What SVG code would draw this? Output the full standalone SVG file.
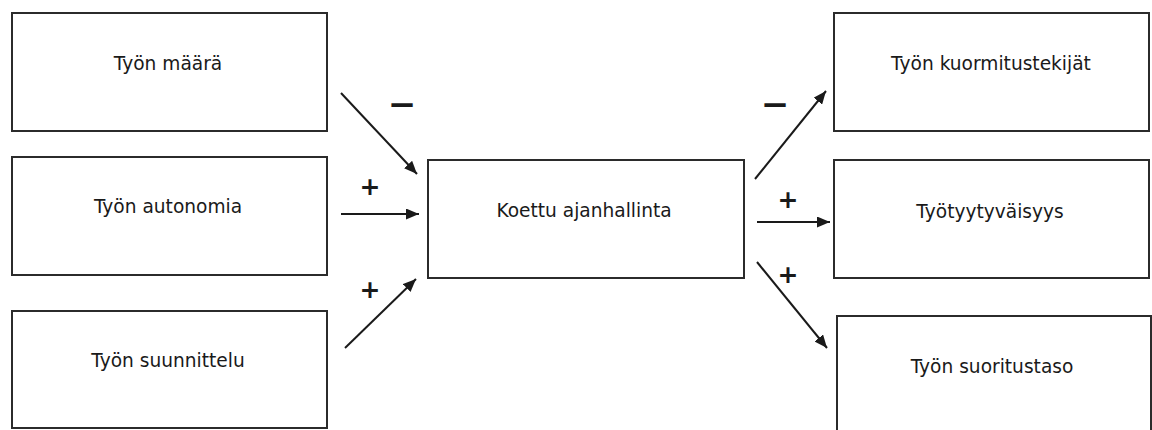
<svg xmlns="http://www.w3.org/2000/svg" width="1152" height="430" viewBox="0 0 1152 430">
  <style>
    .box { fill: #ffffff; stroke: #2b2b2b; stroke-width: 2; }
    .lbl { font-family: "DejaVu Sans", Verdana, sans-serif; font-size: 18.6px; fill: #1a1a1a; text-anchor: middle; }
    .edge { stroke: #1a1a1a; stroke-width: 2; fill: none; marker-end: url(#arrow); }
    .sign { font-family: "DejaVu Sans", sans-serif; font-weight: bold; fill: #1a1a1a; text-anchor: middle; dominant-baseline: central; }
    .plus { font-size: 25px; }
    .minus { font-size: 34px; }
  </style>
  <defs>
    <marker id="arrow" markerUnits="userSpaceOnUse" markerWidth="13" markerHeight="11" refX="13" refY="5.5" orient="auto">
      <path d="M0,0 L13,5.5 L0,11 z" fill="#1a1a1a"/>
    </marker>
  </defs>
  <rect x="0" y="0" width="1152" height="430" fill="#ffffff"/>

  <g id="tyon-maara">
    <rect class="box" x="12" y="13" width="315" height="118"/>
    <text class="lbl" x="168" y="70">Työn määrä</text>
  </g>
  <g id="tyon-autonomia">
    <rect class="box" x="12" y="157" width="315" height="118"/>
    <text class="lbl" x="168" y="213">Työn autonomia</text>
  </g>
  <g id="tyon-suunnittelu">
    <rect class="box" x="12" y="311" width="315" height="117"/>
    <text class="lbl" x="168" y="367">Työn suunnittelu</text>
  </g>
  <g id="koettu-ajanhallinta">
    <rect class="box" x="428" y="160" width="316" height="118"/>
    <text class="lbl" x="584" y="217">Koettu ajanhallinta</text>
  </g>
  <g id="tyon-kuormitustekijat">
    <rect class="box" x="834" y="13" width="315" height="118"/>
    <text class="lbl" x="991" y="70">Työn kuormitustekijät</text>
  </g>
  <g id="tyotyytyvaisyys">
    <rect class="box" x="834" y="160" width="315" height="118"/>
    <text class="lbl" x="990" y="218">Työtyytyväisyys</text>
  </g>
  <g id="tyon-suoritustaso">
    <rect class="box" x="837" y="316" width="314" height="130"/>
    <text class="lbl" x="992" y="373">Työn suoritustaso</text>
  </g>

  <g id="connectors">
    <line class="edge" x1="341" y1="93" x2="417" y2="174"/>
    <line class="edge" x1="341" y1="214" x2="419" y2="214"/>
    <line class="edge" x1="345" y1="348" x2="416" y2="279"/>
    <line class="edge" x1="755" y1="179" x2="826" y2="91"/>
    <line class="edge" x1="757" y1="222" x2="830" y2="222"/>
    <line class="edge" x1="757" y1="262" x2="827" y2="348"/>
    <text class="sign minus" x="402" y="104">−</text>
    <text class="sign plus" x="370" y="186">+</text>
    <text class="sign plus" x="370" y="289">+</text>
    <text class="sign minus" x="775" y="104">−</text>
    <text class="sign plus" x="788" y="199">+</text>
    <text class="sign plus" x="788" y="274">+</text>
  </g>
</svg>
